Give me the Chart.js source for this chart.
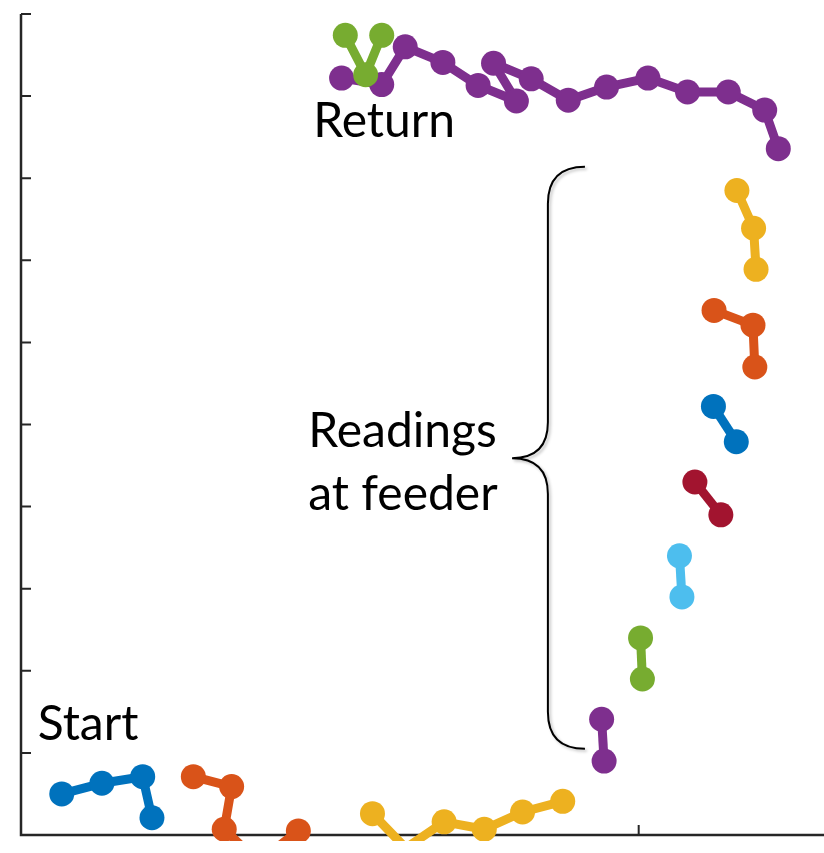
<!DOCTYPE html>
<html>
<head>
<meta charset="utf-8">
<script src="https://cdn.jsdelivr.net/npm/chart.js@4.4.1/dist/chart.umd.min.js"></script>
<style>
  html, body { margin: 0; padding: 0; background: #fff; }
  canvas { display: block; }
</style>
</head>
<body>
<canvas id="trackChart" width="824" height="853"></canvas>
<script>
/* ---------------------------------- Data ---------------------------------- */
const xTicks = [10];
const yTicks = [0, 1, 2, 3, 4, 5, 6, 7, 8, 9, 10];

// path legs, in plot order (points below zero are off the axis and get clipped)
const leg1X = [0.66, 1.31, 1.97, 2.12];
const leg1Y = [0.50, 0.63, 0.71, 0.21];
const leg2X = [2.79, 3.41, 3.29, 3.84, 4.49];
const leg2Y = [0.71, 0.59, 0.07, -0.33, 0.05];
const leg3X = [5.69, 6.23, 6.85, 7.50, 8.12, 8.77];
const leg3Y = [0.26, -0.16, 0.16, 0.07, 0.28, 0.41];
const leg4X = [9.40, 9.44];
const leg4Y = [1.41, 0.90];
const leg5X = [10.03, 10.06];
const leg5Y = [2.40, 1.90];
const leg6X = [10.66, 10.70];
const leg6Y = [3.40, 2.90];
const leg7X = [10.91, 11.33];
const leg7Y = [4.30, 3.90];
const leg8X = [11.21, 11.58];
const leg8Y = [5.22, 4.79];
const leg9X = [11.22, 11.85, 11.88];
const leg9Y = [6.39, 6.21, 5.70];
const leg10X = [11.59, 11.86, 11.90];
const leg10Y = [7.85, 7.39, 6.89];
const leg11X = [5.19, 5.84, 6.22, 6.83, 7.40, 8.02, 7.65, 8.26, 8.86, 9.48, 10.15, 10.79, 11.45, 12.04, 12.26];
const leg11Y = [9.22, 9.14, 9.60, 9.41, 9.13, 8.94, 9.40, 9.21, 8.95, 9.11, 9.22, 9.05, 9.05, 8.83, 8.36];
const leg12X = [5.25, 5.58, 5.84];
const leg12Y = [9.74, 9.26, 9.74];

const legs = [
  [leg1X, leg1Y], [leg2X, leg2Y], [leg3X, leg3Y], [leg4X, leg4Y],
  [leg5X, leg5Y], [leg6X, leg6Y], [leg7X, leg7Y], [leg8X, leg8Y],
  [leg9X, leg9Y], [leg10X, leg10Y], [leg11X, leg11Y], [leg12X, leg12Y],
];

/* --------------------------------- Styles --------------------------------- */
const colorOrder = ["#0072BD", "#D95319", "#EDB120", "#7E2F8E", "#77AC30", "#4DBEEE", "#A2142F"];
const axisColor = "#262626";

const labels = [
  { text: "Return", x: 4.73, y: 8.50 },
  { text: "Start", x: 0.27, y: 1.16 },
  { text: "Readings", x: 4.65, y: 4.73 },
  { text: "at feeder", x: 4.65, y: 3.96 },
];

const brace = { spineX: 8.53, tipX: 7.95, armX: 9.13, topY: 8.14, tipY: 4.59, bottomY: 1.05 };

/* ------------------------------- Axes plugin ------------------------------ */
const axesPlugin = {
  id: "matlabAxes",
  beforeDatasetsDraw(chart) {
    const { ctx, chartArea, scales } = chart;
    ctx.save();
    ctx.strokeStyle = axisColor;
    ctx.lineWidth = 2.5;
    ctx.beginPath();
    ctx.moveTo(chartArea.left, chartArea.top);
    ctx.lineTo(chartArea.left, chartArea.bottom);
    ctx.lineTo(chartArea.right, chartArea.bottom);
    ctx.stroke();

    ctx.lineWidth = 2;
    ctx.beginPath();
    yTicks.forEach((v) => {
      const py = scales.y.getPixelForValue(v);
      ctx.moveTo(chartArea.left, py);
      ctx.lineTo(chartArea.left + 10, py);
    });
    xTicks.forEach((v) => {
      const px = scales.x.getPixelForValue(v);
      ctx.moveTo(px, chartArea.bottom);
      ctx.lineTo(px, chartArea.bottom - 10);
    });
    ctx.stroke();
    ctx.restore();
  },
  afterDatasetsDraw(chart) {
    const { ctx, scales } = chart;
    const X = (v) => scales.x.getPixelForValue(v);
    const Y = (v) => scales.y.getPixelForValue(v);

    ctx.save();
    ctx.fillStyle = "#000";
    ctx.font = "48px Lato, 'Open Sans', sans-serif";
    ctx.textBaseline = "alphabetic";
    ctx.textAlign = "left";
    labels.forEach((l) => ctx.fillText(l.text, X(l.x), Y(l.y)));

    // curly brace
    const sx = X(brace.spineX), tx = X(brace.tipX), ax = X(brace.armX);
    const ty = Y(brace.topY), my = Y(brace.tipY), by = Y(brace.bottomY);
    const r = ax - sx, rt = sx - tx;
    ctx.strokeStyle = "#000";
    ctx.lineWidth = 2;
    ctx.shadowColor = "rgba(0,0,0,0.25)";
    ctx.shadowBlur = 3;
    ctx.shadowOffsetX = 2;
    ctx.shadowOffsetY = 2;
    ctx.beginPath();
    ctx.moveTo(ax, ty);
    ctx.quadraticCurveTo(sx, ty, sx, ty + r);
    ctx.lineTo(sx, my - rt);
    ctx.quadraticCurveTo(sx, my, tx, my);
    ctx.quadraticCurveTo(sx, my, sx, my + rt);
    ctx.lineTo(sx, by - r);
    ctx.quadraticCurveTo(sx, by, ax, by);
    ctx.stroke();
    ctx.restore();
  },
};

/* ---------------------------------- Chart --------------------------------- */
const datasets = legs.map(([xs, ys], i) => {
  const color = colorOrder[i % colorOrder.length];
  return {
    label: "Leg " + (i + 1),
    data: xs.map((x, j) => ({ x: x, y: ys[j] })),
    borderColor: color,
    backgroundColor: color,
    borderWidth: 9,
    borderJoinStyle: "round",
    pointRadius: 12.5,
    pointBorderWidth: 0,
    pointHoverRadius: 12.5,
    showLine: true,
    order: -i,
    clip: { left: 0, top: 0, right: 0, bottom: 6 },
  };
});

const ctx = document.getElementById("trackChart").getContext("2d");
new Chart(ctx, {
  type: "scatter",
  data: { datasets: datasets },
  options: {
    responsive: false,
    animation: false,
    layout: { autoPadding: false, padding: { left: 21, top: 14, right: 0, bottom: 18 } },
    scales: {
      x: { type: "linear", min: 0, max: 13, display: false },
      y: { type: "linear", min: 0, max: 10, display: false },
    },
    plugins: {
      legend: { display: false },
      tooltip: { enabled: false },
    },
  },
  plugins: [axesPlugin],
});
</script>
</body>
</html>
